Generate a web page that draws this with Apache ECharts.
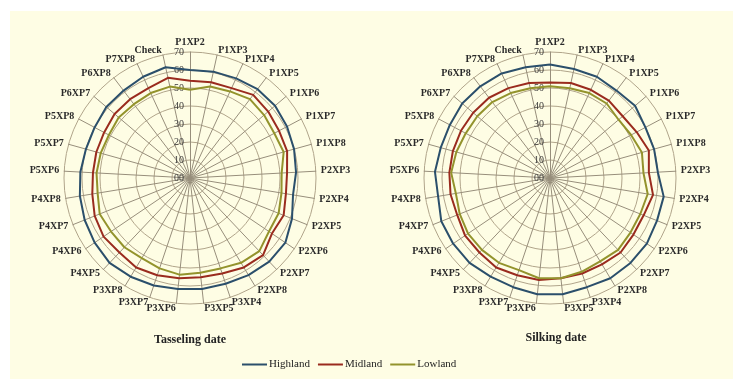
<!DOCTYPE html>
<html>
<head>
<meta charset="utf-8">
<script src="https://cdn.jsdelivr.net/npm/echarts@6/dist/echarts.min.js"></script>
<style>
html,body{margin:0;padding:0;background:#ffffff;}
#wrap{position:relative;width:733px;height:379px;background:#ffffff;}
#bg{position:absolute;left:10px;top:11px;right:0;bottom:0;background:#FEFDE4;}
#chart{position:absolute;left:0;top:0;width:733px;height:379px;}
</style>
</head>
<body>
<div id="wrap"><div id="bg"></div><div id="chart"></div></div>
<script>
// Indicators (clockwise from top)
const indicators = ['P1XP2','P1XP3','P1XP4','P1XP5','P1XP6','P1XP7','P1XP8','P2XP3','P2XP4','P2XP5','P2XP6','P2XP7','P2XP8','P3XP4','P3XP5','P3XP6','P3XP7','P3XP8','P4XP5','P4XP6','P4XP7','P4XP8','P5XP6','P5XP7','P5XP8','P6XP7','P6XP8','P7XP8','Check'];
const seriesNames = ['Highland','Midland','Lowland'];
const chartTitles = ['Tasseling date','Silking date'];
const axisTicks = [0,10,20,30,40,50,60,70];

// Tasseling date
const tasselHighland = [60,60.5,61,62,62,61,60,59,58,61,64,64,63,62,62,62,63,64,65,64,63,62,61,60,60,61,61,62,63];
const tasselMidland  = [54,54.5,55,58,57,56,56,54,54,56,55,59,58,56,55.5,56,57,58,57,58,57,55,54,54,54,55,55,55,57];
const tasselLowland  = [49,52,53,55,54,53,54,51,51.5,53,53,56,55,53,53,54,53,52,53,53,54,52,52,51.5,51,52,51.5,52,52];

// Silking date
const silkHighland = [63,62,62,61,62,60,60,60,64,64,65,65,65,64,65,65,64,64,65,65,65,63,64,63,63,64,64,64,63];
const silkMidland  = [53,54,54,54,53,54.5,57,55,58,56,56,57,56,56,56,57,57,58,57,57,55.5,56,56,56,56,56,56,55,54];
const silkLowland  = [51,51,52,52,50,51,53,52,55,54,54,55,54,55,56,56,54,55,55,55,54,53,55,54,53,53,53,52,51];

const colors = ['#2B4F6B','#9A2B1E','#93932C'];

// ECharts radar runs counter-clockwise: reorder so that the picture runs clockwise
function cw(arr){ return [arr[0]].concat(arr.slice(1).reverse()); }
const orderedNames = cw(indicators);
const tMin = axisTicks[0], tMax = axisTicks[axisTicks.length-1];

function makeRadar(cx){
  return {
    center:[cx,178], radius:126, startAngle:90, shape:'circle', splitNumber:axisTicks.length-1,
    nameGap:5,
    axisName:{color:'#2a2a2a', fontFamily:'Liberation Serif', fontSize:10, fontWeight:'bold'},
    splitLine:{lineStyle:{color:'#B0A48A', width:1}},
    splitArea:{show:false},
    axisLine:{lineStyle:{color:'#978E7B', width:1}},
    axisTick:{show:false},
    axisLabel:{show:false},
    indicator: orderedNames.map(function(n,k){
      const o = {name:n, min:tMin, max:tMax};
      if(k===0){
        o.axisLabel = {show:true, color:'#3a3a3a', fontFamily:'Liberation Serif', fontSize:10, margin:6,
          formatter:function(v){ return v===0 ? '00' : String(v); }};
      }
      return o;
    })
  };
}

function makeSeries(idx, data){
  return {
    type:'radar', radarIndex:idx, symbol:'none', silent:true,
    data: data.map(function(d,i){
      return {name:seriesNames[i], value:cw(d),
        lineStyle:{color:colors[i], width:2},
        itemStyle:{color:colors[i]}};
    })
  };
}

const chart = echarts.init(document.getElementById('chart'), null, {renderer:'canvas'});
chart.setOption({
  backgroundColor:'transparent',
  animation:false,
  title:[
    {text:chartTitles[0], left:185, top:329, textAlign:'center',
      textStyle:{fontFamily:'Liberation Serif', fontSize:12, fontWeight:'bold', color:'#222'}},
    {text:chartTitles[1], left:551, top:327, textAlign:'center',
      textStyle:{fontFamily:'Liberation Serif', fontSize:12, fontWeight:'bold', color:'#222'}}
  ],
  legend:{
    data:seriesNames, left:237, top:354, icon:'rect', itemWidth:25, itemHeight:2, itemGap:8,
    textStyle:{fontFamily:'Liberation Serif', fontSize:11, color:'#222', padding:[0,0,0,-3]}
  },
  radar:[makeRadar(190), makeRadar(550)],
  series:[
    makeSeries(0,[tasselHighland,tasselMidland,tasselLowland]),
    makeSeries(1,[silkHighland,silkMidland,silkLowland])
  ]
});
</script>
</body>
</html>
